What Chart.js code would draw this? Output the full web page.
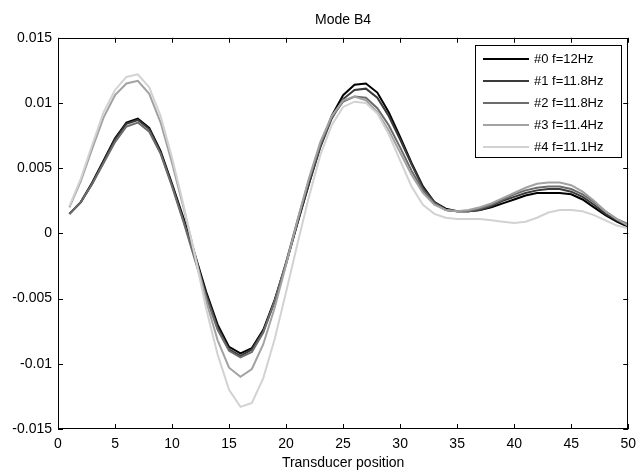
<!DOCTYPE html>
<html>
<head>
<meta charset="utf-8">
<title>Mode B4</title>
<script src="https://cdn.jsdelivr.net/npm/chart.js@4.4.0/dist/chart.umd.min.js"></script>
<style>
  body { margin: 0; background: #fff; }
</style>
</head>
<body>
<canvas id="modeChart" width="643" height="472"></canvas>
<script>
// transducer positions 1..50
const positions = [1, 2, 3, 4, 5, 6, 7, 8, 9, 10, 11, 12, 13, 14, 15, 16, 17, 18, 19, 20,
    21, 22, 23, 24, 25, 26, 27, 28, 29, 30, 31, 32, 33, 34, 35, 36, 37, 38, 39, 40,
    41, 42, 43, 44, 45, 46, 47, 48, 49, 50];

const seriesNames = ['#0 f=12Hz', '#1 f=11.8Hz', '#2 f=11.8Hz', '#3 f=11.4Hz', '#4 f=11.1Hz'];
const seriesColors = ['#000000', '#3a3a3a', '#6c6c6c', '#a2a2a2', '#d2d2d2'];

const mode0 = [0.0015, 0.0024, 0.0039, 0.0056, 0.0073, 0.0085, 0.0088, 0.0081, 0.0063, 0.0038,
    0.0012, -0.0016, -0.0045, -0.0070, -0.0087, -0.0092, -0.0088, -0.0074, -0.0051, -0.0023,
    0.0008, 0.0038, 0.0067, 0.0090, 0.0106, 0.0114, 0.0115, 0.0108, 0.0093, 0.0074,
    0.0054, 0.0036, 0.0024, 0.0019, 0.0017, 0.0017, 0.0018, 0.0020, 0.0023, 0.0026,
    0.0029, 0.0031, 0.0031, 0.0031, 0.0030, 0.0026, 0.0020, 0.0014, 0.0009, 0.0005];
const mode1 = [0.0015, 0.0024, 0.0038, 0.0055, 0.0072, 0.0084, 0.0087, 0.0080, 0.0062, 0.0037,
    0.0010, -0.0018, -0.0047, -0.0072, -0.0089, -0.0094, -0.0089, -0.0075, -0.0052, -0.0023,
    0.0008, 0.0038, 0.0066, 0.0088, 0.0103, 0.0110, 0.0111, 0.0104, 0.0090, 0.0072,
    0.0053, 0.0035, 0.0024, 0.0018, 0.0017, 0.0017, 0.0018, 0.0021, 0.0025, 0.0028,
    0.0031, 0.0033, 0.0034, 0.0034, 0.0032, 0.0028, 0.0022, 0.0015, 0.0010, 0.0006];
const mode2 = [0.0015, 0.0024, 0.0038, 0.0054, 0.0070, 0.0082, 0.0085, 0.0078, 0.0061, 0.0036,
    0.0009, -0.0020, -0.0049, -0.0074, -0.0090, -0.0095, -0.0091, -0.0076, -0.0052, -0.0022,
    0.0010, 0.0041, 0.0068, 0.0089, 0.0101, 0.0105, 0.0104, 0.0096, 0.0083, 0.0066,
    0.0048, 0.0033, 0.0023, 0.0018, 0.0017, 0.0017, 0.0019, 0.0022, 0.0026, 0.0030,
    0.0033, 0.0035, 0.0036, 0.0036, 0.0034, 0.0030, 0.0024, 0.0017, 0.0011, 0.0007];
const mode3 = [0.0020, 0.0040, 0.0065, 0.0089, 0.0106, 0.0115, 0.0117, 0.0107, 0.0085, 0.0054,
    0.0020, -0.0016, -0.0052, -0.0082, -0.0103, -0.0110, -0.0104, -0.0085, -0.0057, -0.0024,
    0.0010, 0.0042, 0.0070, 0.0090, 0.0102, 0.0105, 0.0102, 0.0093, 0.0079, 0.0062,
    0.0045, 0.0031, 0.0022, 0.0018, 0.0017, 0.0018, 0.0020, 0.0023, 0.0027, 0.0031,
    0.0035, 0.0038, 0.0039, 0.0039, 0.0037, 0.0032, 0.0025, 0.0017, 0.0011, 0.0006];
const mode4 = [0.0021, 0.0042, 0.0068, 0.0093, 0.0110, 0.0120, 0.0122, 0.0112, 0.0090, 0.0058,
    0.0022, -0.0017, -0.0058, -0.0093, -0.0120, -0.0133, -0.0130, -0.0111, -0.0081, -0.0045,
    -0.0008, 0.0028, 0.0060, 0.0083, 0.0097, 0.0101, 0.0100, 0.0092, 0.0076, 0.0056,
    0.0036, 0.0022, 0.0015, 0.0012, 0.0011, 0.0011, 0.0011, 0.0010, 0.0009, 0.0008,
    0.0009, 0.0012, 0.0016, 0.0018, 0.0018, 0.0017, 0.0014, 0.0010, 0.0006, 0.0004];

const xTicks = [0, 5, 10, 15, 20, 25, 30, 35, 40, 45, 50];
const yTicks = [-0.015, -0.01, -0.005, 0, 0.005, 0.01, 0.015];
const yTickLabels = ['-0.015', '-0.01', '-0.005', '0', '0.005', '0.01', '0.015'];

const allSeries = [mode0, mode1, mode2, mode3, mode4];

Chart.defaults.font.family = '"Liberation Sans", Arial, sans-serif';
Chart.defaults.color = '#000';

// matlab style box with inward ticks on all four sides
const axesBox = {
    id: 'axesBox',
    afterDatasetsDraw(chart) {
        const ctx = chart.ctx;
        const a = chart.chartArea;
        const xs = chart.scales.x, ys = chart.scales.y;
        ctx.save();
        ctx.strokeStyle = '#000';
        ctx.lineWidth = 1;
        ctx.beginPath();
        xTicks.forEach(v => {
            let px = Math.round(xs.getPixelForValue(v)) + 0.5;
            ctx.moveTo(px, a.bottom); ctx.lineTo(px, a.bottom - 5);
            ctx.moveTo(px, a.top); ctx.lineTo(px, a.top + 5);
        });
        yTicks.forEach(v => {
            let py = Math.round(ys.getPixelForValue(v)) + 0.5;
            ctx.moveTo(a.left, py); ctx.lineTo(a.left + 5, py);
            ctx.moveTo(a.right, py); ctx.lineTo(a.right - 5, py);
        });
        ctx.stroke();
        ctx.strokeRect(Math.round(a.left) + 0.5, Math.round(a.top) + 0.5,
            Math.round(a.width) - 1, Math.round(a.height) - 1);
        ctx.restore();
    }
};

// boxed legend in the upper right corner of the plot
const boxLegend = {
    id: 'boxLegend',
    afterDraw(chart) {
        const ctx = chart.ctx;
        const a = chart.chartArea;
        const w = 146, h = 112;
        const left = Math.round(a.right - 7 - w), top = Math.round(a.top + 7);
        ctx.save();
        ctx.fillStyle = '#fff';
        ctx.fillRect(left, top, w, h);
        ctx.strokeStyle = '#000';
        ctx.lineWidth = 1;
        ctx.strokeRect(left + 0.5, top + 0.5, w, h);
        ctx.font = '13px "Liberation Sans", Arial, sans-serif';
        ctx.textBaseline = 'middle';
        chart.data.datasets.forEach((ds, i) => {
            let cy = top + 14 + i * 22;
            ctx.strokeStyle = ds.borderColor;
            ctx.lineWidth = 2;
            ctx.beginPath();
            ctx.moveTo(left + 8, cy);
            ctx.lineTo(left + 54, cy);
            ctx.stroke();
            ctx.fillStyle = '#000';
            ctx.fillText(ds.label, left + 59, cy);
        });
        ctx.restore();
    }
};

const ctx = document.getElementById('modeChart').getContext('2d');

const modeChart = new Chart(ctx, {
    type: 'line',
    data: {
        datasets: allSeries.map((vals, i) => ({
            label: seriesNames[i],
            data: positions.map((p, j) => ({ x: p, y: vals[j] })),
            borderColor: seriesColors[i],
            backgroundColor: seriesColors[i],
            borderWidth: 2,
            pointRadius: 0,
            tension: 0,
            fill: false,
            order: allSeries.length - i
        }))
    },
    options: {
        responsive: false,
        animation: false,
        layout: {
            padding: { left: 0, right: 9, top: 0, bottom: 0 }
        },
        plugins: {
            legend: { display: false },
            tooltip: { enabled: false },
            title: {
                display: true,
                text: 'Mode B4',
                fullSize: false,
                color: '#000',
                font: { size: 14, weight: 'normal' },
                padding: { top: 12, bottom: 9 }
            }
        },
        scales: {
            x: {
                type: 'linear',
                min: 0,
                max: 50,
                afterBuildTicks: s => { s.ticks = xTicks.map(v => ({ value: v })); },
                afterFit: s => { s.height = 43; },
                grid: { display: false, drawTicks: false },
                border: { display: false },
                ticks: {
                    font: { size: 14 },
                    color: '#000',
                    padding: 7,
                    maxRotation: 0,
                    callback: v => String(v)
                },
                title: {
                    display: true,
                    text: 'Transducer position',
                    color: '#000',
                    font: { size: 14 },
                    padding: 0
                }
            },
            y: {
                type: 'linear',
                min: -0.015,
                max: 0.015,
                afterBuildTicks: s => { s.ticks = yTicks.map(v => ({ value: v })); },
                afterFit: s => { s.width = 58; },
                grid: { display: false, drawTicks: false },
                border: { display: false },
                ticks: {
                    font: { size: 14 },
                    color: '#000',
                    padding: 6,
                    callback: (v, i) => yTickLabels[i]
                }
            }
        }
    },
    plugins: [axesBox, boxLegend]
});
</script>
</body>
</html>
